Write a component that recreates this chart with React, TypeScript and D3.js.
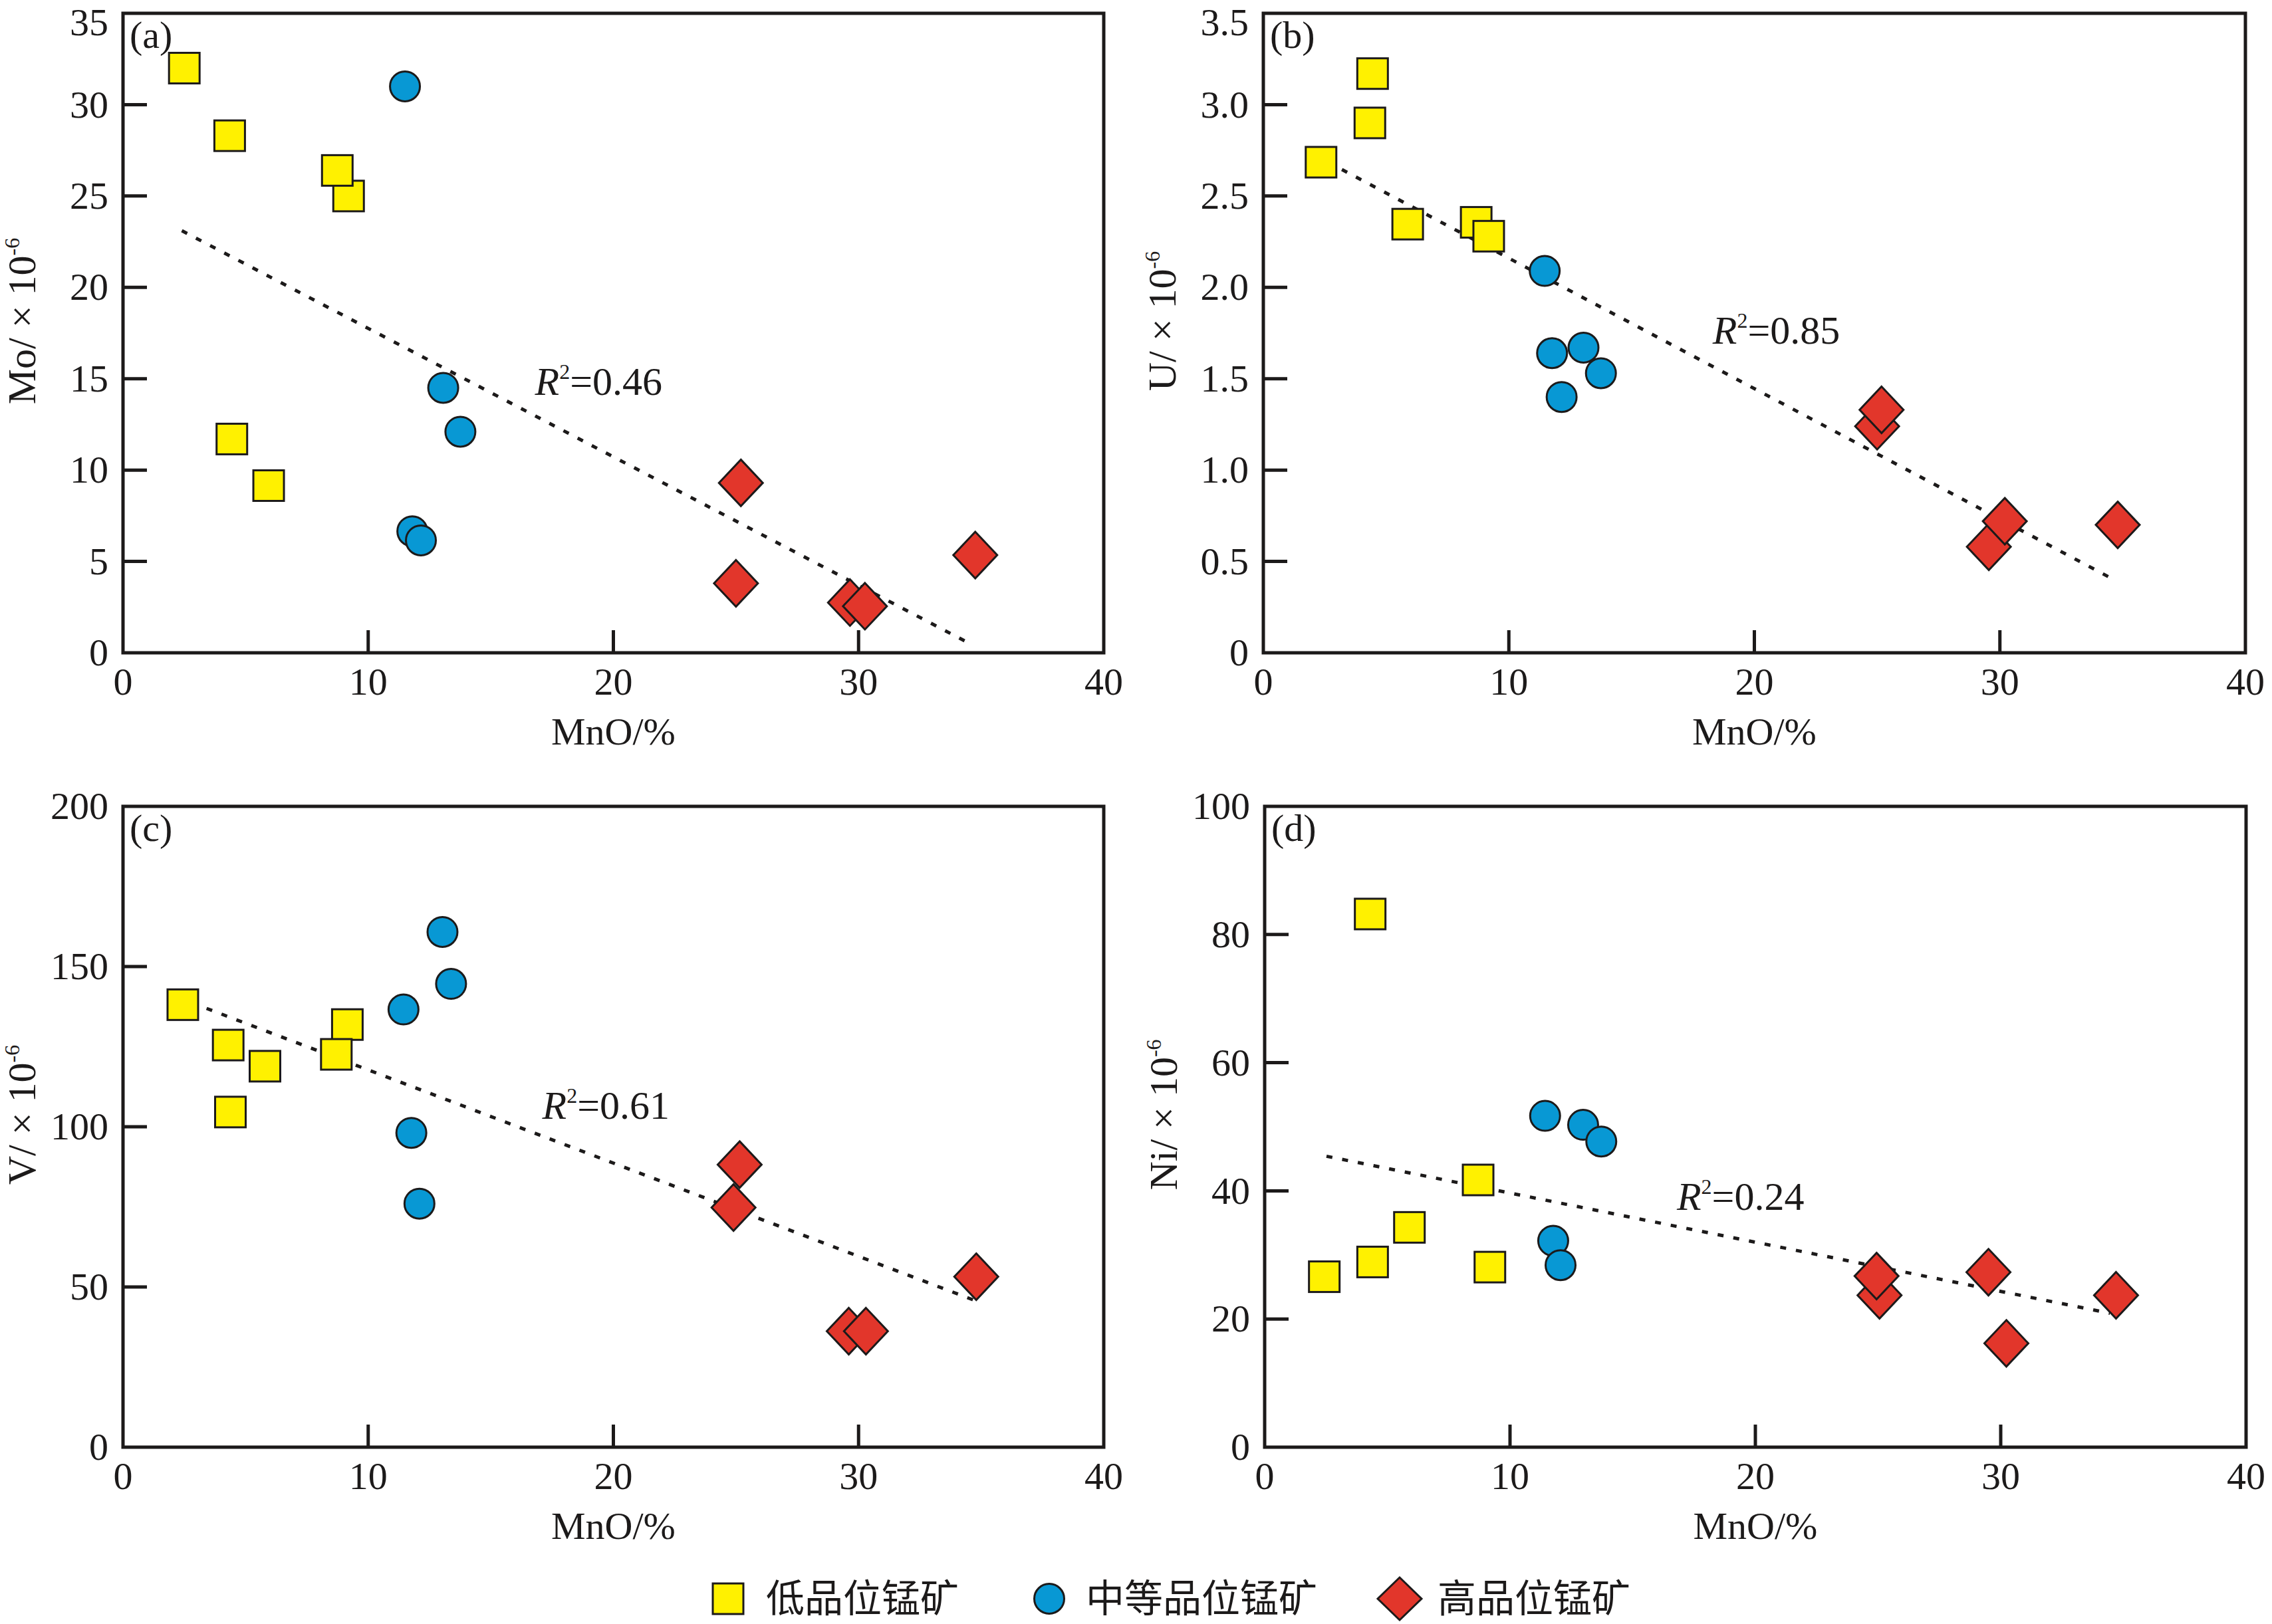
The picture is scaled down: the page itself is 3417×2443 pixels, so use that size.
import React from 'react';
import * as d3 from 'd3';

// MnO (%) vs trace element; [MnO, value]
const moLow = [[2.5, 32.0], [4.35, 28.3], [9.2, 25.0], [8.74, 26.4], [4.44, 11.7], [5.94, 9.15]];
const moMid = [[11.5, 31.0], [13.06, 14.5], [13.76, 12.1], [11.8, 6.65], [12.15, 6.15]];
const moHigh = [[25.2, 9.3], [25.0, 3.8], [34.76, 5.35], [29.65, 2.75], [30.26, 2.55]];
const moTrend = [[2.4, 23.1], [34.4, 0.6]];

const uLow = [[4.45, 3.17], [4.34, 2.9], [2.35, 2.685], [5.88, 2.346], [8.67, 2.356], [9.18, 2.28]];
const uMid = [[11.46, 2.09], [11.76, 1.64], [13.04, 1.67], [13.75, 1.53], [12.15, 1.4]];
const uHigh = [[25.0, 1.24], [25.18, 1.33], [29.55, 0.58], [30.2, 0.72], [34.8, 0.7]];
const uTrend = [[3.2, 2.645], [34.65, 0.4]];

const vLow = [[2.44, 138.1], [4.29, 125.5], [5.79, 118.9], [4.38, 104.6], [9.15, 131.9], [8.7, 122.6]];
const vMid = [[13.03, 160.8], [13.38, 144.6], [11.44, 136.6], [11.76, 98.1], [12.09, 76.0]];
const vHigh = [[25.15, 88.2], [24.9, 74.8], [34.8, 53.2], [29.6, 36.2], [30.3, 36.2]];
const vTrend = [[2.8, 138.7], [34.7, 45.9]];

const niLow = [[4.3, 83.2], [8.7, 41.7], [5.9, 34.3], [4.4, 28.9], [2.43, 26.6], [9.18, 28.1]];
const niMid = [[11.43, 51.7], [12.98, 50.3], [13.72, 47.7], [11.76, 32.2], [12.06, 28.4]];
const niHigh = [[25.06, 23.7], [24.94, 26.7], [29.5, 27.3], [34.7, 23.7], [30.23, 16.2]];
const niTrend = [[2.52, 45.4], [34.45, 20.9]];

const xTicks = [0, 10, 20, 30, 40];
const moTicks = [0, 5, 10, 15, 20, 25, 30, 35];
const uTicks = [0, 0.5, 1.0, 1.5, 2.0, 2.5, 3.0, 3.5];
const vTicks = [0, 50, 100, 150, 200];
const niTicks = [0, 20, 40, 60, 80, 100];

const legendLabels = ['低品位锰矿', '中等品位锰矿', '高品位锰矿'];

const W = 3417;
const H = 2443;
const SERIF = '"Liberation Serif", "Times New Roman", serif';
const CJK = '"Noto Sans CJK SC", sans-serif';
const INK = '#1c1a1a';
const YELLOW = '#fff100';
const BLUE = '#0898d4';
const RED = '#e2362b';

const Square = ({ x, y }) => (
  <rect x={x - 23} y={y - 23} width={46} height={46} fill={YELLOW} stroke={INK} strokeWidth={3} />
);
const Dot = ({ x, y }) => <circle cx={x} cy={y} r={22.5} fill={BLUE} stroke={INK} strokeWidth={3} />;
const Diamond = ({ x, y, hw = 33, hh = 35 }) => (
  <path
    d={`M${x},${y - hh}L${x + hw},${y}L${x},${y + hh}L${x - hw},${y}Z`}
    fill={RED}
    stroke={INK}
    strokeWidth={3}
  />
);

const oneDecimal = (t) => (t === 0 ? '0' : d3.format('.1f')(t));

const panels = [
  {
    tag: '(a)', box: [185, 1660, 20, 982], ticks: moTicks, fmt: d3.format('d'),
    low: moLow, mid: moMid, high: moHigh, trend: moTrend,
    title: 'Mo/ × 10', r2: '=0.46', r2At: [16.8, 14.1]
  },
  {
    tag: '(b)', box: [1900, 3377, 20, 982], ticks: uTicks, fmt: oneDecimal,
    low: uLow, mid: uMid, high: uHigh, trend: uTrend,
    title: 'U/ × 10', r2: '=0.85', r2At: [18.3, 1.69]
  },
  {
    tag: '(c)', box: [185, 1660, 1213, 2177], ticks: vTicks, fmt: d3.format('d'),
    low: vLow, mid: vMid, high: vHigh, trend: vTrend,
    title: 'V/ × 10', r2: '=0.61', r2At: [17.1, 102.4]
  },
  {
    tag: '(d)', box: [1902, 3378, 1213, 2177], ticks: niTicks, fmt: d3.format('d'),
    low: niLow, mid: niMid, high: niHigh, trend: niTrend,
    title: 'Ni/ × 10', r2: '=0.24', r2At: [16.8, 37.0]
  }
];

function Panel({ p }) {
  const [left, right, top, bottom] = p.box;
  const x = d3.scaleLinear().domain([0, 40]).range([left, right]);
  const yMax = p.ticks[p.ticks.length - 1];
  const y = d3.scaleLinear().domain([0, yMax]).range([bottom, top]);
  const line = d3.line().x((d) => x(d[0])).y((d) => y(d[1]));
  const midY = (top + bottom) / 2 - 18;

  return (
    <g>
      {/* inner ticks */}
      {p.ticks.slice(1, -1).map((t) => (
        <line key={`yt${t}`} x1={left} x2={left + 36} y1={y(t)} y2={y(t)} stroke={INK} strokeWidth={5} />
      ))}
      {xTicks.slice(1, -1).map((t) => (
        <line key={`xt${t}`} x1={x(t)} x2={x(t)} y1={bottom} y2={bottom - 34} stroke={INK} strokeWidth={5} />
      ))}
      <rect x={left} y={top} width={right - left} height={bottom - top} fill="none" stroke={INK} strokeWidth={5} />

      {p.ticks.map((t) => (
        <text key={`yl${t}`} x={left - 22} y={Math.max(y(t), 34)} dy="0.33em" textAnchor="end" fontFamily={SERIF} fontSize={58} fill={INK}>
          {p.fmt(t)}
        </text>
      ))}
      {xTicks.map((t) => (
        <text key={`xl${t}`} x={x(t)} y={bottom + 63} textAnchor="middle" fontFamily={SERIF} fontSize={58} fill={INK}>
          {t}
        </text>
      ))}

      <text x={(left + right) / 2} y={bottom + 138} textAnchor="middle" fontFamily={SERIF} fontSize={58} fill={INK}>
        MnO/%
      </text>
      <text
        transform={`translate(${left - 132},${midY}) rotate(-90)`}
        textAnchor="middle"
        fontFamily={SERIF}
        fontSize={60}
        fill={INK}
      >
        {p.title}
        <tspan dy={-24} fontSize={32}>-6</tspan>
      </text>

      <text x={left + 10} y={top + 52} fontFamily={SERIF} fontSize={58} fill={INK}>
        {p.tag}
      </text>

      <path d={line(p.trend)} fill="none" stroke={INK} strokeWidth={5} strokeDasharray="9 15" />

      <text x={x(p.r2At[0])} y={y(p.r2At[1])} fontFamily={SERIF} fontSize={60} fill={INK}>
        <tspan fontStyle="italic">R</tspan>
        <tspan dy={-24} fontSize={32}>2</tspan>
        <tspan dy={24}>{p.r2}</tspan>
      </text>

      {p.low.map((d, i) => <Square key={`l${i}`} x={x(d[0])} y={y(d[1])} />)}
      {p.mid.map((d, i) => <Dot key={`m${i}`} x={x(d[0])} y={y(d[1])} />)}
      {p.high.map((d, i) => <Diamond key={`h${i}`} x={x(d[0])} y={y(d[1])} />)}
    </g>
  );
}

export default function App() {
  const ly = 2405;
  return (
    <svg
      width={W}
      height={H}
      viewBox={`0 0 ${W} ${H}`}
      style={{ position: 'absolute', left: 0, top: 0, background: '#fff' }}
    >
      <rect width={W} height={H} fill="#fff" />
      {panels.map((p) => (
        <Panel key={p.tag} p={p} />
      ))}

      {/* legend */}
      <Square x={1095} y={ly} />
      <text x={1152} y={ly} dy="0.34em" fontFamily={CJK} fontSize={58} fill={INK}>{legendLabels[0]}</text>
      <Dot x={1578} y={ly} />
      <text x={1633} y={ly} dy="0.34em" fontFamily={CJK} fontSize={58} fill={INK}>{legendLabels[1]}</text>
      <Diamond x={2105} y={ly} hw={33} hh={32} />
      <text x={2162} y={ly} dy="0.34em" fontFamily={CJK} fontSize={58} fill={INK}>{legendLabels[2]}</text>
    </svg>
  );
}
